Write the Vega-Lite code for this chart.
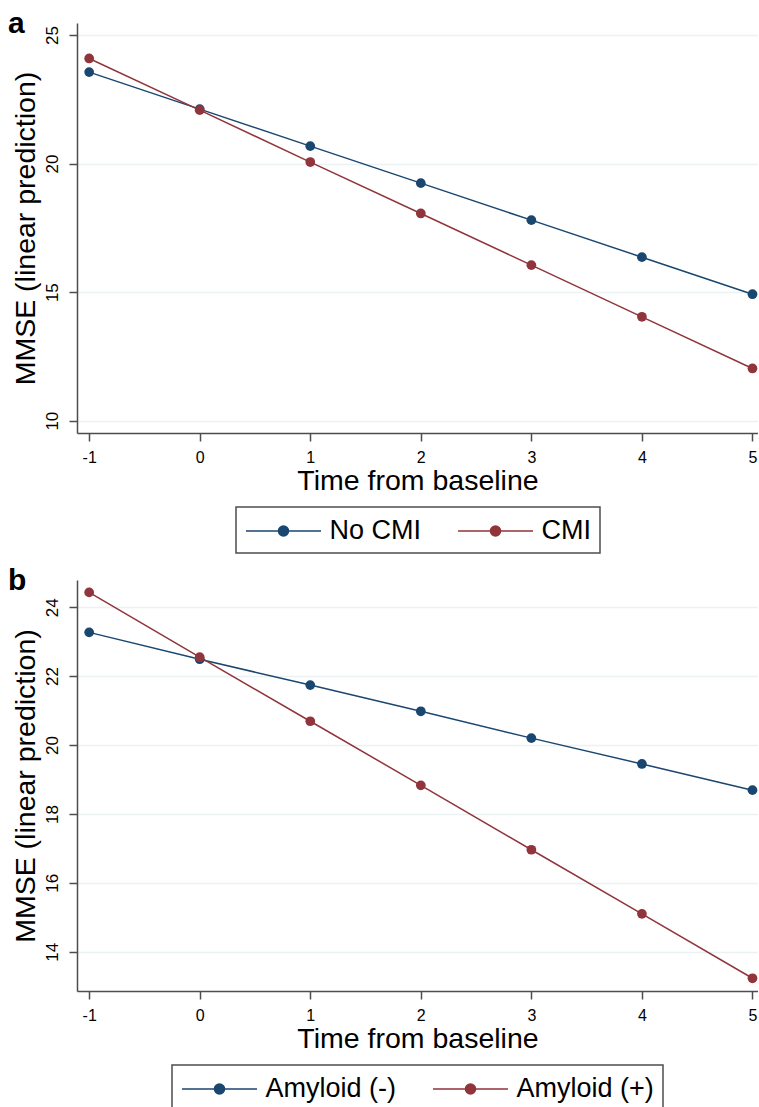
{
  "$schema": "https://vega.github.io/schema/vega-lite/v6.json",
  "padding": {"left": 8, "top": 9, "right": 0, "bottom": 0},
  "background": "white",
  "config": {
    "font": "Liberation Sans",
    "view": {"stroke": null},
    "axis": {
      "domainColor": "#4d4d4d", "domainWidth": 1.5,
      "tickColor": "#4d4d4d", "tickWidth": 1.5, "tickSize": 8,
      "labelColor": "#000", "titleColor": "#000",
      "labelFontSize": 16, "titleFontSize": 28.5, "titleFontWeight": "normal",
      "gridColor": "#eaf2f3", "gridWidth": 1.5,
      "labelFont": "Liberation Sans", "titleFont": "Liberation Sans"
    },
    "legend": {
      "labelFontSize": 27, "labelFont": "Liberation Sans", "labelColor": "#000",
      "symbolType": "M-2.68,0H2.68M-0.36,0A0.36,0.36 0 1,0 0.36,0A0.36,0.36 0 1,0 -0.36,0Z",
      "symbolSize": 784, "symbolStrokeWidth": 1.5, "symbolOffset": 23.5,
      "strokeColor": "#4d4d4d", "padding": 9, "columnPadding": 32, "labelOffset": 31,
      "layout": {"bottom": {"anchor": "middle"}}
    },
    "title": {"font": "Liberation Sans", "fontSize": 30, "fontWeight": "bold", "anchor": "start", "frame": "bounds", "color": "#000", "dx": -3}
  },
  "datasets": {
    "a": [
      {"time": -1, "mmse": 23.56, "group": "No CMI"},
      {"time": 0, "mmse": 22.12, "group": "No CMI"},
      {"time": 1, "mmse": 20.68, "group": "No CMI"},
      {"time": 2, "mmse": 19.24, "group": "No CMI"},
      {"time": 3, "mmse": 17.80, "group": "No CMI"},
      {"time": 4, "mmse": 16.36, "group": "No CMI"},
      {"time": 5, "mmse": 14.92, "group": "No CMI"},
      {"time": -1, "mmse": 24.09, "group": "CMI"},
      {"time": 0, "mmse": 22.08, "group": "CMI"},
      {"time": 1, "mmse": 20.06, "group": "CMI"},
      {"time": 2, "mmse": 18.06, "group": "CMI"},
      {"time": 3, "mmse": 16.05, "group": "CMI"},
      {"time": 4, "mmse": 14.04, "group": "CMI"},
      {"time": 5, "mmse": 12.03, "group": "CMI"}
    ],
    "b": [
      {"time": -1, "mmse": 23.27, "group": "Amyloid (-)"},
      {"time": 0, "mmse": 22.49, "group": "Amyloid (-)"},
      {"time": 1, "mmse": 21.74, "group": "Amyloid (-)"},
      {"time": 2, "mmse": 20.98, "group": "Amyloid (-)"},
      {"time": 3, "mmse": 20.20, "group": "Amyloid (-)"},
      {"time": 4, "mmse": 19.45, "group": "Amyloid (-)"},
      {"time": 5, "mmse": 18.69, "group": "Amyloid (-)"},
      {"time": -1, "mmse": 24.43, "group": "Amyloid (+)"},
      {"time": 0, "mmse": 22.55, "group": "Amyloid (+)"},
      {"time": 1, "mmse": 20.69, "group": "Amyloid (+)"},
      {"time": 2, "mmse": 18.83, "group": "Amyloid (+)"},
      {"time": 3, "mmse": 16.96, "group": "Amyloid (+)"},
      {"time": 4, "mmse": 15.10, "group": "Amyloid (+)"},
      {"time": 5, "mmse": 13.23, "group": "Amyloid (+)"}
    ]
  },
  "spacing": 12,
  "resolve": {"scale": {"color": "independent", "y": "independent"}, "legend": {"color": "independent"}},
  "vconcat": [
    {
      "title": {"text": "a", "offset": -16},
      "width": 681, "height": 410,
      "data": {"name": "a"},
      "encoding": {
        "x": {"field": "time", "type": "quantitative",
          "scale": {"domain": [-1.11, 5.05], "nice": false, "zero": false},
          "axis": {"values": [-1, 0, 1, 2, 3, 4, 5], "grid": false, "title": "Time from baseline", "labelPadding": 8, "titlePadding": 1, "labelExpr": "datum.value + ''"}},
        "y": {"field": "mmse", "type": "quantitative",
          "scale": {"domain": [9.52, 25.47], "nice": false, "zero": false},
          "axis": {"values": [10, 15, 20, 25], "grid": true, "title": "MMSE (linear prediction)", "labelAngle": -90, "labelFontSize": 17, "labelPadding": 8, "titlePadding": 3}},
        "color": {"field": "group", "type": "nominal",
          "scale": {"domain": ["No CMI", "CMI"], "range": ["#1a476f", "#90353b"]},
          "legend": {"orient": "bottom", "direction": "horizontal", "title": null, "offset": 12,
            "encode": {
              "symbols": {"update": {"fill": {"scale": "color", "field": "value"}, "stroke": {"scale": "color", "field": "value"}, "strokeWidth": {"value": 1.5}}},
              "legend": {"update": {"stroke": {"value": "#4d4d4d"}, "strokeWidth": {"value": 1.5}}}
            }}}
      },
      "layer": [
        {"mark": {"type": "line", "strokeWidth": 1.5}},
        {"mark": {"type": "point", "filled": true, "size": 95, "opacity": 1}}
      ]
    },
    {
      "title": {"text": "b", "offset": -16},
      "width": 681, "height": 411,
      "data": {"name": "b"},
      "encoding": {
        "x": {"field": "time", "type": "quantitative",
          "scale": {"domain": [-1.11, 5.05], "nice": false, "zero": false},
          "axis": {"values": [-1, 0, 1, 2, 3, 4, 5], "grid": false, "title": "Time from baseline", "labelPadding": 8, "titlePadding": 1, "labelExpr": "datum.value + ''"}},
        "y": {"field": "mmse", "type": "quantitative",
          "scale": {"domain": [12.86, 24.79], "nice": false, "zero": false},
          "axis": {"values": [14, 16, 18, 20, 22, 24], "grid": true, "title": "MMSE (linear prediction)", "labelAngle": -90, "labelFontSize": 17, "labelPadding": 8, "titlePadding": 3}},
        "color": {"field": "group", "type": "nominal",
          "scale": {"domain": ["Amyloid (-)", "Amyloid (+)"], "range": ["#1a476f", "#90353b"]},
          "legend": {"orient": "bottom", "direction": "horizontal", "title": null, "offset": 12,
            "encode": {
              "symbols": {"update": {"fill": {"scale": "color", "field": "value"}, "stroke": {"scale": "color", "field": "value"}, "strokeWidth": {"value": 1.5}}},
              "legend": {"update": {"stroke": {"value": "#4d4d4d"}, "strokeWidth": {"value": 1.5}}}
            }}}
      },
      "layer": [
        {"mark": {"type": "line", "strokeWidth": 1.5}},
        {"mark": {"type": "point", "filled": true, "size": 95, "opacity": 1}}
      ]
    }
  ]
}
